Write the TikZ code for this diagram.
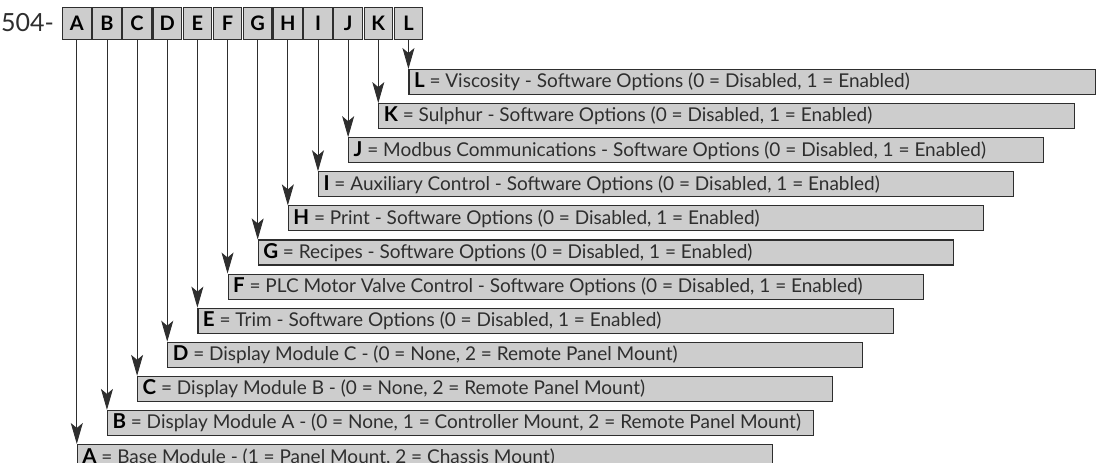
\documentclass[tikz,border=0pt]{standalone}
\usepackage{fontspec}
\setmainfont{Lato}
\usetikzlibrary{arrows.meta}
\definecolor{boxfill}{HTML}{CDCDCD}
\definecolor{ink}{HTML}{2E2E2E}
\begin{document}
\begin{tikzpicture}[x=1pt,y=-1pt,
  txt/.style={font=\fontsize{25}{27}\selectfont, text=ink},
  cell/.style={draw=ink, line width=1.1pt, fill=boxfill, minimum width=28.5pt,
    minimum height=32pt, inner sep=0pt, font=\fontsize{20}{22}\selectfont\bfseries, text=black},
  lbl/.style={draw=ink, line width=1.1pt, fill=boxfill, minimum height=25pt,
    inner xsep=5pt, inner ysep=0pt, anchor=north west,
    font=\fontsize{19}{20}\selectfont, text=ink},
  conn/.style={draw=ink, line width=0.9pt, -{Stealth[length=21pt,width=12pt,inset=5pt]}}]
\useasboundingbox (0,0) rectangle (1096,463);
\foreach \l [count=\i from 0] in {A,B,C,D,E,F,G,H,I,J,K,L}{
  \pgfmathsetmacro\cx{76.8+30.15*\i}
  \node[cell] (cell\l) at (\cx,23.3) {\l};
}
\node[txt, anchor=east, inner sep=0pt] (code) at ([xshift=-8pt,yshift=1pt]cellA.west) {504-};
\foreach \l/\r/\t [count=\i from 0] in {
  A/771.7/{Base Module - (1 = Panel Mount, 2 = Chassis Mount)},
  B/812.7/{Display Module A - (0 = None, 1 = Controller Mount, 2 = Remote Panel Mount)},
  C/832/{Display Module B - (0 = None, 2 = Remote Panel Mount)},
  D/862/{Display Module C - (0 = None, 2 = Remote Panel Mount)},
  E/893/{Trim - Software Options (0 = Disabled, 1 = Enabled)},
  F/923/{PLC Motor Valve Control - Software Options (0 = Disabled, 1 = Enabled)},
  G/953/{Recipes - Software Options (0 = Disabled, 1 = Enabled)},
  H/983/{Print - Software Options (0 = Disabled, 1 = Enabled)},
  I/1013/{Auxiliary Control - Software Options (0 = Disabled, 1 = Enabled)},
  J/1043/{Modbus Communications - Software Options (0 = Disabled, 1 = Enabled)},
  K/1074/{Sulphur - Software Options (0 = Disabled, 1 = Enabled)},
  L/1095/{Viscosity - Software Options (0 = Disabled, 1 = Enabled)}}{
  \pgfmathsetmacro\bx{76.8+30.15*\i}
  \pgfmathsetmacro\by{444-34.09*\i}
  \pgfmathsetmacro\tw{\r-\bx-10}
  \node[lbl] (box\l) at (\bx,\by) {\makebox[\tw pt][l]{\textbf{\color{black}\fontsize{20.5}{20}\selectfont\l} = \t}};
  \draw[conn] (cell\l.south) -- (cell\l.south |- box\l.north);
}
\end{tikzpicture}
\end{document}
